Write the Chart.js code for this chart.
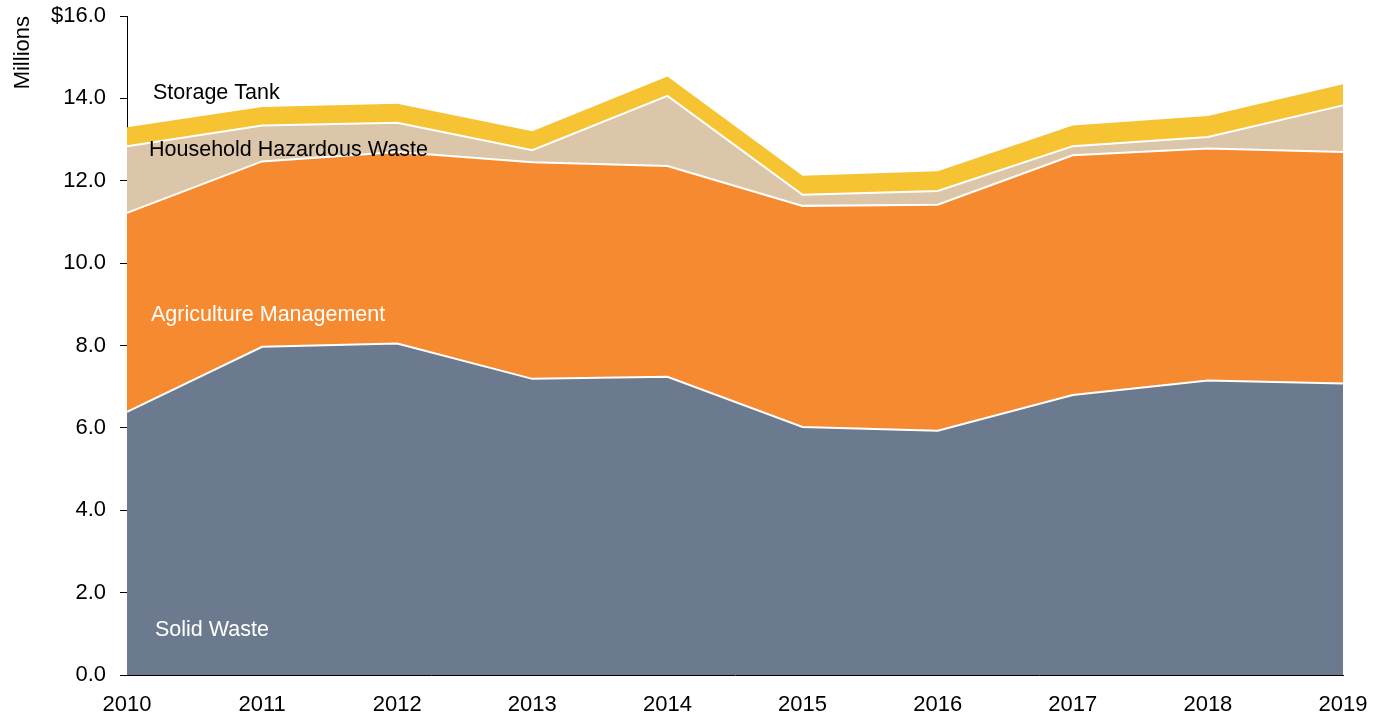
<!DOCTYPE html>
<html>
<head>
<meta charset="utf-8">
<script src="https://cdn.jsdelivr.net/npm/chart.js@4/dist/chart.umd.min.js"></script>
<style>
    body { margin: 0; background: #fff; }
    #wrap { width: 1385px; height: 719px; position: relative; }
</style>
</head>
<body>
<div id="wrap"><canvas id="wasteChart"></canvas></div>
<script>
// Values (millions of dollars)
const years = ['2010', '2011', '2012', '2013', '2014', '2015', '2016', '2017', '2018', '2019'];
const solidWaste = [6.39, 7.97, 8.05, 7.19, 7.24, 6.02, 5.93, 6.80, 7.15, 7.08];
const agricultureMgmt = [4.83, 4.50, 4.65, 5.26, 5.12, 5.37, 5.49, 5.82, 5.63, 5.62];
const householdHazardous = [1.62, 0.87, 0.71, 0.29, 1.70, 0.27, 0.33, 0.22, 0.28, 1.13];
const storageTank = [0.46, 0.45, 0.46, 0.46, 0.47, 0.46, 0.48, 0.50, 0.51, 0.51];
const yTicks = [0, 2, 4, 6, 8, 10, 12, 14, 16];

const FONT = '"Liberation Sans", Arial, sans-serif';
Chart.defaults.font.family = FONT;
Chart.defaults.color = '#000';

// Series names drawn inside the areas
const areaLabels = {
    id: 'areaLabels',
    afterDatasetsDraw(chart) {
        const { ctx, chartArea, scales } = chart;
        const spots = [
            { text: 'Storage Tank', dx: 26, v: 14.12, color: '#000' },
            { text: 'Household Hazardous Waste', dx: 22, v: 12.74, color: '#000' },
            { text: 'Agriculture Management', dx: 24, v: 8.74, color: '#fff' },
            { text: 'Solid Waste', dx: 28, v: 1.08, color: '#fff' }
        ];
        ctx.save();
        ctx.font = '21.5px ' + FONT;
        ctx.textBaseline = 'middle';
        ctx.textAlign = 'left';
        spots.forEach(s => {
            ctx.fillStyle = s.color;
            ctx.fillText(s.text, chartArea.left + s.dx, scales.y.getPixelForValue(s.v));
        });
        ctx.restore();
    }
};

const ctx = document.getElementById('wasteChart').getContext('2d');
const wasteChart = new Chart(ctx, {
    type: 'line',
    data: {
        labels: years,
        datasets: [
            { label: 'Solid Waste', data: solidWaste, backgroundColor: '#6B7A8F', borderColor: '#fff', borderWidth: 2, fill: 'origin' },
            { label: 'Agriculture Management', data: agricultureMgmt, backgroundColor: '#F68A30', borderColor: '#fff', borderWidth: 2, fill: '-1' },
            { label: 'Household Hazardous Waste', data: householdHazardous, backgroundColor: '#DCC6A9', borderColor: '#fff', borderWidth: 2, fill: '-1' },
            { label: 'Storage Tank', data: storageTank, backgroundColor: '#F6C333', borderColor: '#F6C333', borderWidth: 0, fill: '-1' }
        ]
    },
    options: {
        responsive: true,
        maintainAspectRatio: false,
        animation: false,
        layout: { padding: { top: 16, right: 42, left: 0, bottom: 0 } },
        elements: {
            line: { tension: 0 },
            point: { radius: 0, hoverRadius: 0 }
        },
        plugins: {
            legend: { display: false },
            tooltip: { enabled: false }
        },
        scales: {
            x: {
                offset: false,
                grid: { drawOnChartArea: false, drawTicks: false },
                border: { color: '#000', width: 1 },
                ticks: { padding: 17, font: { size: 22 }, maxRotation: 0, autoSkip: false },
                afterFit: s => { s.height = 44; }
            },
            y: {
                stacked: true,
                min: 0,
                max: 16,
                afterBuildTicks: s => { s.ticks = yTicks.map(v => ({ value: v })); },
                ticks: {
                    padding: 14,
                    font: { size: 22 },
                    callback: v => (v === 16 ? '$' : '') + Number(v).toFixed(1)
                },
                grid: { drawOnChartArea: false, drawTicks: true, tickLength: 7, tickColor: '#000' },
                border: { color: '#000', width: 1 },
                title: { display: true, text: 'Millions', align: 'end', font: { size: 22 }, padding: { top: 10, bottom: 0 } },
                afterFit: s => {
                    s.width = 127;
                    s.paddingTop = 0;
                    s.paddingBottom = 0;
                }
            }
        }
    },
    plugins: [areaLabels]
});
</script>
</body>
</html>
